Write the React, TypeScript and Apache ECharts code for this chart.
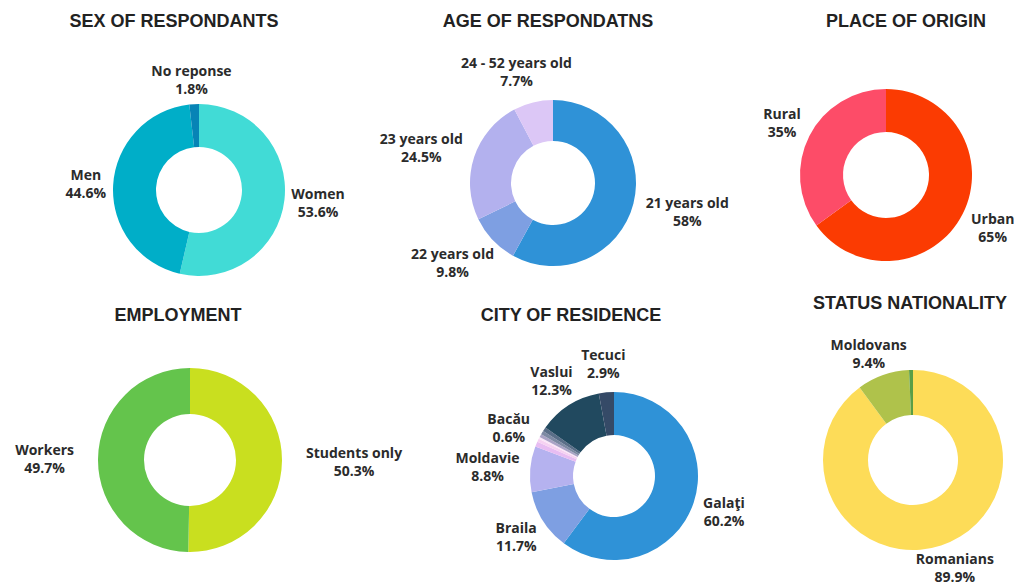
import React, { useEffect, useRef } from "react";
import * as echarts from "echarts";

// ---- Data ----
const sexNames = ["Women", "Men", "No reponse"];
const sexValues = [53.6, 44.6, 1.8];
const sexColors = ["#41dbd6", "#00aec8", "#0784b6"];

const ageNames = ["21 years old", "22 years old", "23 years old", "24 - 52 years old"];
const ageValues = [58, 9.8, 24.5, 7.7];
const ageColors = ["#2f92d7", "#7e9fe2", "#b3b1ee", "#dcc7f6"];

const originNames = ["Urban", "Rural"];
const originValues = [65, 35];
const originColors = ["#fb3b02", "#fd4c68"];

const employmentNames = ["Students only", "Workers"];
const employmentValues = [50.3, 49.7];
const employmentColors = ["#c9df1f", "#64c44c"];

const cityNames = ["Galaţi", "Braila", "Moldavie", "", "Bacău", "", "", "", "", "Vaslui", "Tecuci"];
const cityValues = [60.2, 11.7, 8.8, 1.0, 0.6, 0.4, 0.6, 0.7, 0.8, 12.3, 2.9];
const cityColors = ["#2f92d7", "#7e9fe2", "#b5b2ef", "#e8bdf2", "#f6d2f2", "#fbe6f8", "#aaa3c6", "#7d89a3", "#5a6e88", "#21495f", "#354a67"];

const statusNames = ["Romanians", "Moldovans", ""];
const statusValues = [89.9, 9.4, 0.7];
const statusColors = ["#fddc58", "#afc24b", "#5a9e46"];

const titles = [
  "SEX OF RESPONDANTS",
  "AGE OF RESPONDATNS",
  "PLACE OF ORIGIN",
  "EMPLOYMENT",
  "CITY OF RESIDENCE",
  "STATUS NATIONALITY",
];

// ---- Layout (positions and sizes) ----
const titlePos = [
  [174, 12],
  [548, 12],
  [906, 12],
  [178, 306],
  [571, 306],
  [910, 294],
];

const pieLayout = [
  { cx: 199, cy: 190, r0: 43, r: 86, gap: 7 },
  { cx: 553, cy: 183, r0: 42, r: 83, gap: 14 },
  { cx: 886, cy: 175, r0: 43, r: 86, gap: 12 },
  { cx: 190, cy: 460, r0: 46, r: 92, gap: 24 },
  { cx: 614, cy: 476, r0: 41, r: 84, gap: 11 },
  { cx: 913, cy: 460, r0: 45, r: 90, gap: 5 },
];

const charts = [
  { names: sexNames, values: sexValues, colors: sexColors },
  { names: ageNames, values: ageValues, colors: ageColors },
  { names: originNames, values: originValues, colors: originColors },
  { names: employmentNames, values: employmentValues, colors: employmentColors },
  { names: cityNames, values: cityValues, colors: cityColors },
  { names: statusNames, values: statusValues, colors: statusColors },
];

function midAngles(values: number[]): number[] {
  const total = values.reduce((a, b) => a + b, 0);
  let acc = 0;
  return values.map((v) => {
    const mid = acc + v / 2;
    acc += v;
    return (mid / total) * Math.PI * 2;
  });
}

export default function App() {
  const ref = useRef<HTMLDivElement>(null);

  useEffect(() => {
    if (!ref.current) return;
    const chart = echarts.init(ref.current, undefined, { renderer: "svg" });

    const series = charts.map((c, i) => {
      const L = pieLayout[i];
      const mids = midAngles(c.values);
      return {
        type: "pie",
        center: [L.cx, L.cy],
        radius: [L.r0, L.r],
        startAngle: 90,
        clockwise: true,
        avoidLabelOverlap: false,
        silent: true,
        emphasis: { disabled: true },
        labelLine: { show: false },
        label: {
          show: true,
          position: "outside",
          formatter: "{b}\n{c}%",
          fontFamily: "Open Sans",
          fontWeight: "bold",
          fontSize: 14,
          lineHeight: 18,
          color: "#2b2b2b",
        },
        labelLayout: (p: any) => {
          const a = mids[p.dataIndex];
          const dx = Math.sin(a);
          const dy = -Math.cos(a);
          const w = p.labelRect.width;
          const h = p.labelRect.height;
          const d = L.r + L.gap;
          return {
            x: L.cx + dx * d + (dx * w) / 2,
            y: L.cy + dy * d + (dy * h) / 2,
            align: "center",
            verticalAlign: "middle",
          };
        },
        data: c.values.map((v, j) => ({
          name: c.names[j],
          value: v,
          itemStyle: { color: c.colors[j] },
          label: { show: c.names[j] !== "" },
        })),
      };
    });

    chart.setOption({
      animation: false,
      backgroundColor: "#ffffff",
      title: titles.map((t, i) => ({
        text: t,
        left: titlePos[i][0],
        top: titlePos[i][1],
        textAlign: "center",
        padding: 0,
        textStyle: {
          fontFamily: "Liberation Sans",
          fontWeight: "bold",
          fontSize: 18,
          color: "#222222",
        },
      })),
      series,
    });

    return () => chart.dispose();
  }, []);

  return (
    <div
      ref={ref}
      style={{ position: "fixed", left: 0, top: 0, width: 1014, height: 586 }}
    />
  );
}
